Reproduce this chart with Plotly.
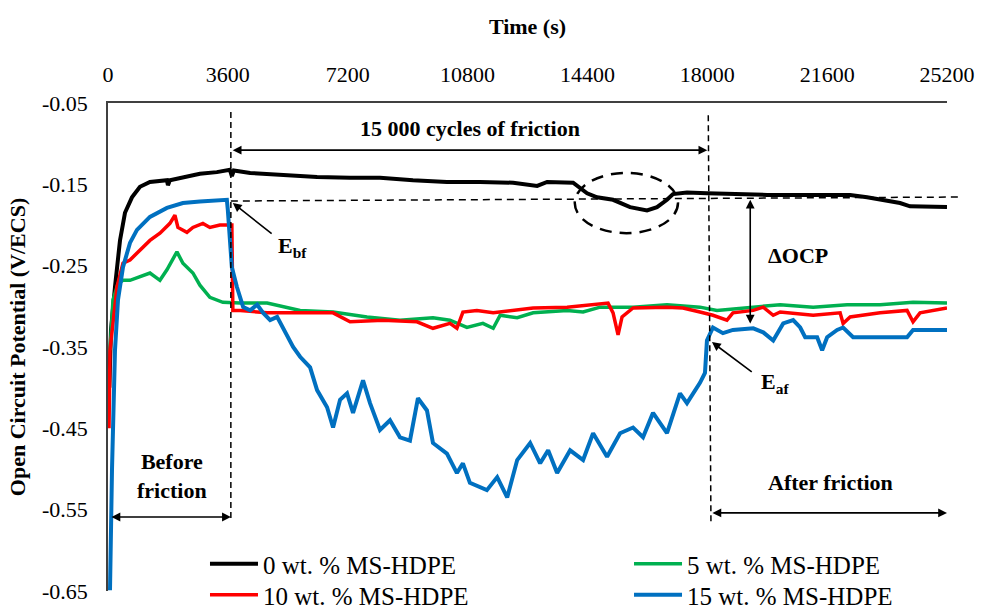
import plotly.graph_objects as go

# ---------------- data (time in s, OCP in V/ECS) ----------------
t_0 = [40, 90, 210, 360, 510, 720, 960, 1260, 1770, 1800, 1860, 2250, 2760, 3270, 3600, 3660, 3720,
       3780, 4270, 5260, 6280, 7270, 8170, 9160, 10180, 11170, 12170, 12890, 13190, 13970, 14390,
       14690, 15170, 15680, 16190, 16490, 16790, 16970, 17390, 17990, 18680, 19800, 20790, 22290,
       22800, 23280, 23790, 24090, 25200]
v_0 = [-0.400, -0.329, -0.276, -0.219, -0.185, -0.166, -0.153, -0.147, -0.145, -0.151, -0.145, -0.141,
       -0.137, -0.135, -0.133, -0.132, -0.140, -0.133, -0.136, -0.139, -0.141, -0.142, -0.142, -0.145,
       -0.147, -0.147, -0.148, -0.152, -0.147, -0.148, -0.161, -0.166, -0.169, -0.178, -0.182, -0.178,
       -0.169, -0.162, -0.160, -0.161, -0.162, -0.163, -0.163, -0.163, -0.166, -0.169, -0.173, -0.177,
       -0.178]

t_5 = [60, 150, 300, 450, 660, 960, 1260, 1560, 1770, 2070, 2250, 2550, 2760, 3060, 3450, 3970, 4780,
       5770, 6760, 7780, 8770, 9760, 10270, 10780, 11260, 11570, 11780, 12290, 12770, 13790, 14270,
       14780, 15770, 16790, 17780, 18290, 19200, 20190, 21180, 22200, 23190, 24180, 25200]
v_5 = [-0.354, -0.292, -0.272, -0.268, -0.268, -0.264, -0.259, -0.268, -0.255, -0.233, -0.247, -0.259,
       -0.274, -0.289, -0.295, -0.296, -0.296, -0.305, -0.307, -0.313, -0.317, -0.314, -0.317, -0.326,
       -0.321, -0.327, -0.311, -0.314, -0.308, -0.305, -0.307, -0.301, -0.301, -0.298, -0.301, -0.305,
       -0.302, -0.298, -0.301, -0.298, -0.298, -0.295, -0.296]

t_10 = [30, 60, 270, 450, 660, 870, 1260, 1560, 1860, 2010, 2100, 2370, 2550, 2850, 3060, 3360, 3720,
        3750, 3970, 4780, 5770, 6760, 7270, 8260, 9280, 9760, 10270, 10480, 10660, 11080, 11570, 12080,
        12770, 13790, 14570, 15020, 15170, 15320, 15440, 15770, 16790, 17270, 17780, 18170, 18590, 18770,
        19380, 19680, 19980, 20190, 21180, 21990, 22080, 22290, 23190, 24000, 24180, 24390, 25200]
v_10 = [-0.450, -0.354, -0.276, -0.247, -0.243, -0.235, -0.219, -0.210, -0.198, -0.188, -0.203, -0.209,
        -0.203, -0.198, -0.203, -0.200, -0.200, -0.305, -0.305, -0.308, -0.308, -0.308, -0.319, -0.317,
        -0.319, -0.327, -0.321, -0.327, -0.307, -0.305, -0.308, -0.305, -0.302, -0.301, -0.298, -0.296,
        -0.308, -0.335, -0.313, -0.302, -0.301, -0.302, -0.307, -0.311, -0.317, -0.308, -0.305, -0.301,
        -0.311, -0.307, -0.311, -0.308, -0.321, -0.313, -0.308, -0.305, -0.319, -0.308, -0.302]

t_15 = [60, 120, 210, 300, 450, 660, 870, 1260, 1770, 2250, 2760, 3570, 3600, 3720, 3870, 4060, 4270,
        4480, 4660, 4870, 5080, 5260, 5560, 5770, 6070, 6280, 6580, 6760, 6970, 7180, 7360, 7660, 7870,
        8170, 8470, 8770, 9070, 9310, 9580, 9760, 10180, 10480, 10660, 10870, 11170, 11380, 11690, 11990,
        12290, 12680, 12980, 13220, 13490, 13880, 14270, 14570, 14990, 15380, 15770, 16070, 16370, 16790,
        17180, 17390, 17780, 17930, 17990, 18170, 18470, 18770, 19380, 19680, 19980, 20280, 20580, 20790,
        20940, 21300, 21450, 21600, 21900, 22080, 22380, 24000, 24180, 25200]
v_15 = [-0.649, -0.501, -0.354, -0.292, -0.252, -0.222, -0.206, -0.190, -0.179, -0.173, -0.171, -0.169,
        -0.182, -0.252, -0.276, -0.301, -0.305, -0.298, -0.308, -0.317, -0.313, -0.326, -0.350, -0.362,
        -0.375, -0.403, -0.424, -0.449, -0.415, -0.407, -0.431, -0.391, -0.419, -0.452, -0.440, -0.461,
        -0.465, -0.413, -0.428, -0.468, -0.481, -0.505, -0.493, -0.517, -0.522, -0.526, -0.510, -0.535,
        -0.489, -0.468, -0.493, -0.477, -0.505, -0.477, -0.489, -0.456, -0.485, -0.456, -0.449, -0.461,
        -0.431, -0.456, -0.407, -0.419, -0.394, -0.382, -0.342, -0.326, -0.333, -0.329, -0.327, -0.332,
        -0.342, -0.321, -0.317, -0.326, -0.338, -0.338, -0.354, -0.338, -0.329, -0.326, -0.338, -0.338,
        -0.329, -0.329]

series_names = ["0 wt. % MS-HDPE", "5 wt. % MS-HDPE", "10 wt. % MS-HDPE", "15 wt. % MS-HDPE"]
series_colors = ["#000000", "#00B050", "#FF0000", "#0070C0"]

x_ticks = [0, 3600, 7200, 10800, 14400, 18000, 21600, 25200]
x_ticktext = ["0", "3600", "7200", "10800", "14400", "18000", "21600", "25200"]
y_ticks = [-0.65, -0.55, -0.45, -0.35, -0.25, -0.15, -0.05]
y_ticktext = ["-0.65", "-0.55", "-0.45", "-0.35", "-0.25", "-0.15", "-0.05"]

SERIF = "Liberation Serif, Times New Roman, serif"

fig = go.Figure()
# drawing order: black, green, red, blue ; each entry gets its own legend box
fig.add_trace(go.Scatter(x=t_0, y=v_0, mode="lines", name=series_names[0],
                         line=dict(color=series_colors[0], width=4), legend="legend"))
fig.add_trace(go.Scatter(x=t_5, y=v_5, mode="lines", name=series_names[1],
                         line=dict(color=series_colors[1], width=3.5), legend="legend2"))
fig.add_trace(go.Scatter(x=t_10, y=v_10, mode="lines", name=series_names[2],
                         line=dict(color=series_colors[2], width=3.5), legend="legend3"))
fig.add_trace(go.Scatter(x=t_15, y=v_15, mode="lines", name=series_names[3],
                         line=dict(color=series_colors[3], width=4), legend="legend4"))

ann_font = dict(family=SERIF, size=22, color="#000000")
annotations = []

def arrow(x_head, y_head, x_tail, y_tail, both=False):
    d = dict(x=x_head, y=y_head, ax=x_tail, ay=y_tail, xref="x", yref="y", axref="x", ayref="y",
             text="", showarrow=True, arrowhead=2, arrowsize=1.1, arrowwidth=1.6, arrowcolor="#000000")
    if both:
        d.update(arrowside="end+start", startarrowhead=2, startarrowsize=1.1)
    annotations.append(d)

def label(x, y, text):
    annotations.append(dict(x=x, y=y, xref="x", yref="y", text=text, showarrow=False, font=ann_font))

# 15 000 cycles of friction
arrow(18000, -0.108, 3700, -0.108, both=True)
label(10870, -0.081, "<b>15 000 cycles of friction</b>")
# E_bf
arrow(3750, -0.173, 4960, -0.212)
label(5530, -0.227, "<b>E<sub>bf</sub></b>")
# Delta OCP
arrow(19290, -0.169, 19290, -0.323, both=True)
label(20730, -0.237, "<b>ΔOCP</b>")
# E_af
arrow(18140, -0.344, 19380, -0.382)
label(20040, -0.394, "<b>E<sub>af</sub></b>")
# Before friction
arrow(3690, -0.559, 60, -0.559, both=True)
label(1920, -0.509, "<b>Before<br>friction</b>")
# After friction
arrow(25200, -0.554, 18110, -0.554, both=True)
label(21690, -0.516, "<b>After friction</b>")

shapes = [
    dict(type="line", xref="x", yref="y", x0=3690, x1=3690, y0=-0.061, y1=-0.565,
         line=dict(color="#000000", width=1.5, dash="6px,4px")),
    dict(type="line", xref="x", yref="y", x0=18030, x1=18110, y0=-0.065, y1=-0.565,
         line=dict(color="#000000", width=1.5, dash="6px,4px")),
    dict(type="line", xref="paper", yref="y", x0=3690 / 25200, x1=1.018, y0=-0.1705, y1=-0.1656,
         line=dict(color="#000000", width=1.5, dash="7px,5px")),
    dict(type="circle", xref="x", yref="y", x0=14020, x1=17120, y0=-0.210, y1=-0.136,
         line=dict(color="#000000", width=2.5, dash="12px,8px")),
]

def leg(x, y):
    return dict(orientation="h", x=x, xanchor="left", y=y, yanchor="middle", bgcolor="rgba(0,0,0,0)",
                font=dict(family=SERIF, size=25, color="#000000"), itemwidth=48)

fig.update_layout(
    width=989, height=611,
    margin=dict(l=108, r=42, t=103, b=20, autoexpand=False),
    showlegend=True,
    paper_bgcolor="white", plot_bgcolor="white",
    font=dict(family=SERIF, size=22, color="#000000"),
    xaxis=dict(range=[0, 25200], side="top", tickvals=x_ticks, ticktext=x_ticktext, ticks="",
               showgrid=False, zeroline=False, automargin=False,
               showline=True, linecolor="#404040", linewidth=2, ticklabelstandoff=10,
               tickfont=dict(family=SERIF, size=22, color="#000000"),
               title=dict(text="<b>Time (s)</b>", font=dict(family=SERIF, size=22), standoff=22)),
    yaxis=dict(range=[-0.65, -0.05], tickvals=y_ticks, ticktext=y_ticktext, ticks="", showgrid=False,
               zeroline=False, automargin=False, showline=True, linecolor="#404040", linewidth=1.5,
               ticklabelstandoff=14, tickfont=dict(family=SERIF, size=22, color="#000000"),
               title=dict(text="<b>Open Circuit Potential (V/ECS)</b>", font=dict(family=SERIF, size=22),
                          standoff=10)),
    legend=leg(0.1156, 0.0553),
    legend2=leg(0.621, 0.0553),
    legend3=leg(0.1156, -0.0082),
    legend4=leg(0.621, -0.0082),
    annotations=annotations,
    shapes=shapes,
)

fig.write_html("out.html", config={"displayModeBar": False},
               post_script="document.body.style.margin='0';")
